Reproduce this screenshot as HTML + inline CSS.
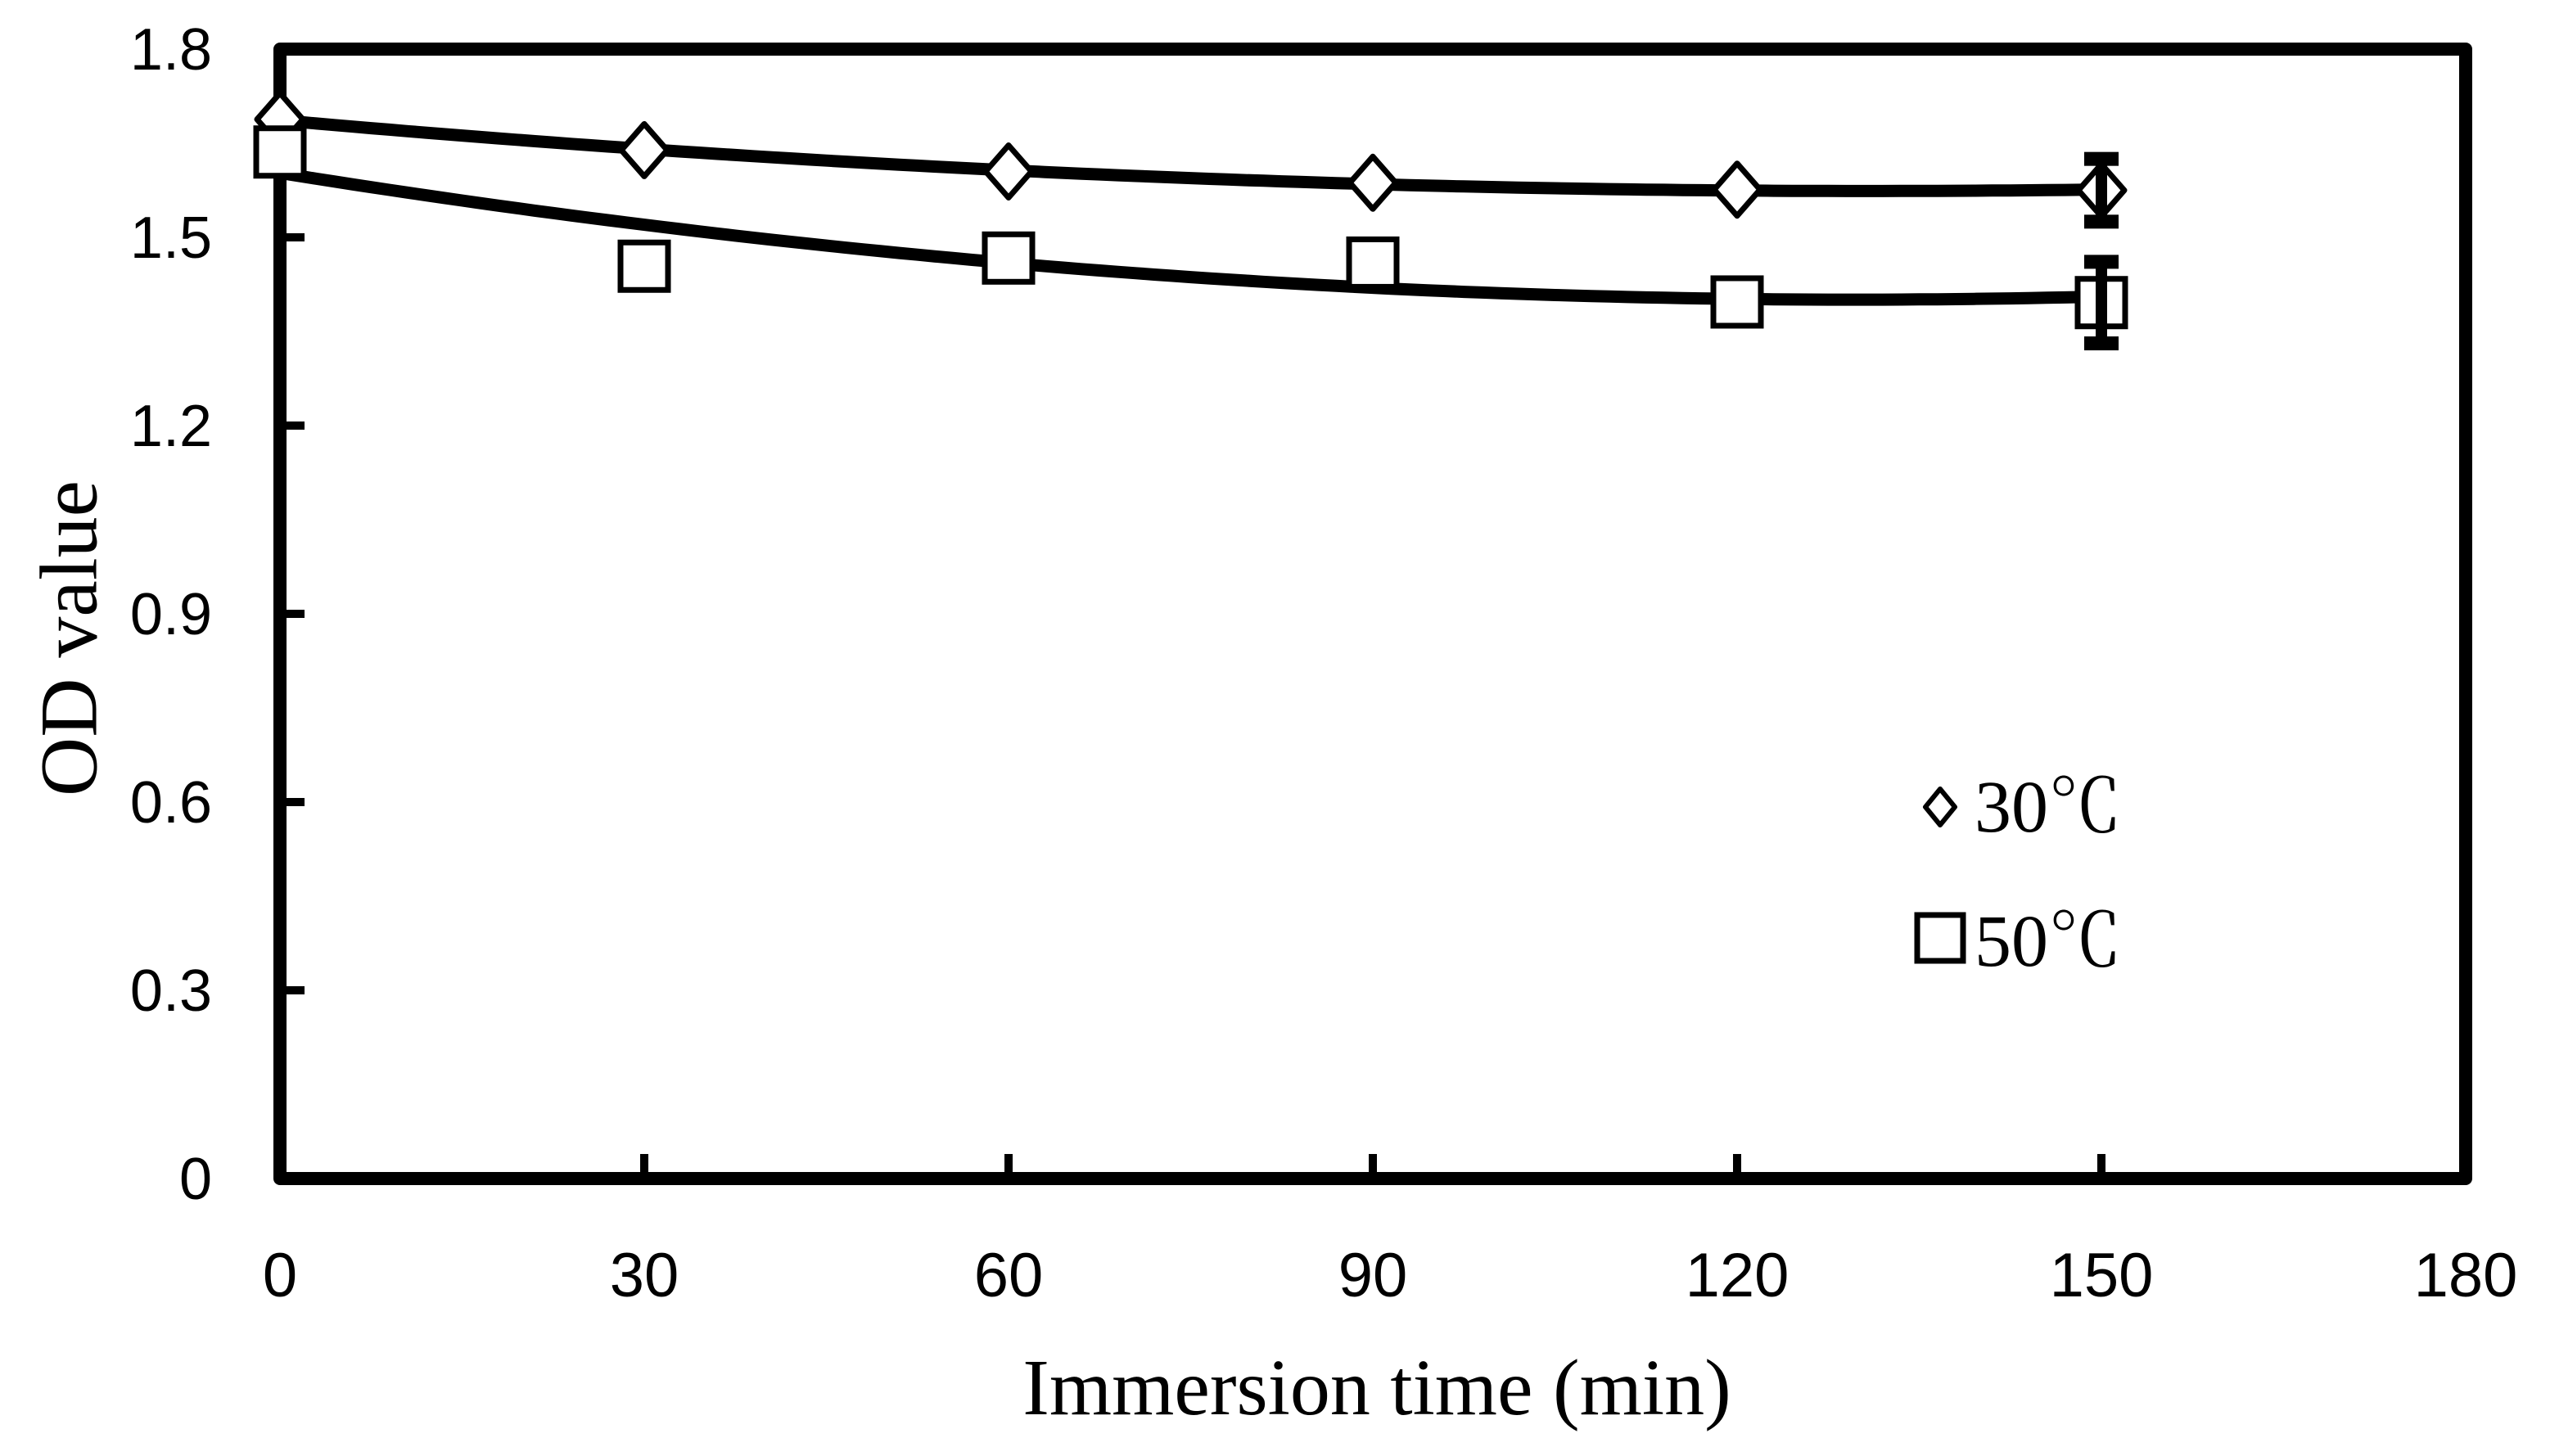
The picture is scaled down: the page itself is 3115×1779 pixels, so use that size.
<!DOCTYPE html>
<html><head><meta charset="utf-8"><style>
html,body{margin:0;padding:0;background:#fff;}
svg{display:block;}
</style></head><body>
<svg id="chart" width="3115" height="1779" viewBox="0 0 3115 1779" xmlns="http://www.w3.org/2000/svg">
<rect x="0" y="0" width="3115" height="1779" fill="#fff"/>
<g id="plot"></g>
<text x="84" y="780" transform="rotate(-90 84 780)" text-anchor="middle" dominant-baseline="central" font-family="Liberation Serif, serif" font-size="100">OD value</text>
<text x="1682" y="1728" text-anchor="middle" font-family="Liberation Serif, serif" font-size="98">Immersion time (min)</text>
<g>
<g>
<path d="M2370 964 L2388 986 L2370 1008 L2352 986 Z" fill="#fff" stroke="#000" stroke-width="6" stroke-linejoin="round"/>
<text x="2412" y="1016" font-family="Liberation Serif, 'Noto Serif CJK SC', serif" font-size="90">30℃</text>
</g>
<g>
<rect x="2342" y="1118" width="56" height="56" fill="#fff" stroke="#000" stroke-width="7"/>
<text x="2412" y="1180" font-family="Liberation Serif, 'Noto Serif CJK SC', serif" font-size="90">50℃</text>
</g>
</g>
</svg>
<script>
const xTicks = [0, 30, 60, 90, 120, 150, 180];
const yTicks = [0, 0.3, 0.6, 0.9, 1.2, 1.5, 1.8];
const yTickLabels = ["0", "0.3", "0.6", "0.9", "1.2", "1.5", "1.8"];
const times = [0, 30, 60, 90, 120, 150];
const od30 = [1.688, 1.639, 1.605, 1.587, 1.576, 1.575];
const od50 = [1.636, 1.454, 1.467, 1.459, 1.397, 1.396];
const err30 = [0, 0, 0, 0, 0, 0.05];
const err50 = [0, 0, 0, 0, 0, 0.065];

const NS = "http://www.w3.org/2000/svg";
const L = 342, R = 3012, T = 60, B = 1440;
const xS = v => L + (v - 0) / 180 * (R - L);
const yS = v => B - v / 1.8 * (B - T);
const g = document.getElementById('plot');
function mk(tag, attrs, parent) {
  const e = document.createElementNS(NS, tag);
  for (const k in attrs) e.setAttribute(k, attrs[k]);
  (parent || g).appendChild(e);
  return e;
}
const frame = mk('rect', {x: L, y: T, width: R - L, height: B - T, fill: 'none', stroke: '#000', 'stroke-width': 16, 'stroke-linejoin': 'round'});


xTicks.forEach((v, i) => {
  const t = mk('line', {x1: xS(v), x2: xS(v), y1: B, y2: B - 30, stroke: '#000', 'stroke-width': 10});
  
  
  const tx = mk('text', {x: xS(v), y: 1584, 'text-anchor': 'middle', 'font-family': 'Liberation Sans, sans-serif', 'font-size': 76});
  tx.textContent = String(v);
  
  
});
yTicks.forEach((v, i) => {
  const t = mk('line', {x1: L, x2: L + 30, y1: yS(v), y2: yS(v), stroke: '#000', 'stroke-width': 10});
  
  
  const tx = mk('text', {x: 259, y: yS(v) + 25, 'text-anchor': 'end', 'font-family': 'Liberation Sans, sans-serif', 'font-size': 72});
  tx.textContent = yTickLabels[i];
  
  
});
function fit2(xs, ys) {
  let S = [0,0,0,0,0], Sy = [0,0,0];
  xs.forEach((x, i) => {
    for (let k = 0; k < 5; k++) S[k] += Math.pow(x, k);
    for (let k = 0; k < 3; k++) Sy[k] += ys[i] * Math.pow(x, k);
  });
  const A = [[S[0],S[1],S[2],Sy[0]],[S[1],S[2],S[3],Sy[1]],[S[2],S[3],S[4],Sy[2]]];
  for (let c = 0; c < 3; c++) {
    for (let r = c + 1; r < 3; r++) {
      const f = A[r][c] / A[c][c];
      for (let k = c; k < 4; k++) A[r][k] -= f * A[c][k];
    }
  }
  const b = [0,0,0];
  for (let r = 2; r >= 0; r--) {
    let s = A[r][3];
    for (let k = r + 1; k < 3; k++) s -= A[r][k] * b[k];
    b[r] = s / A[r][r];
  }
  return x => b[0] + b[1] * x + b[2] * x * x;
}
function trend(xs, ys, name) {
  const f = fit2(xs, ys);
  let d = '';
  const x0 = xs[0], x1 = xs[xs.length - 1];
  for (let i = 0; i <= 100; i++) {
    const x = x0 + (x1 - x0) * i / 100;
    d += (i ? 'L' : 'M') + xS(x).toFixed(1) + ' ' + yS(f(x)).toFixed(1);
  }
  const p = mk('path', {d: d, fill: 'none', stroke: '#000', 'stroke-width': 15, 'stroke-linecap': 'butt'});
  
  
}
trend(times, od30, 'trendline-30c');
trend(times, od50, 'trendline-50c');
function errbar(x, y, e, name) {
  if (!e) return;
  const s = mk('line', {x1: xS(x), x2: xS(x), y1: yS(y + e) - 8, y2: yS(y - e) + 8, stroke: '#000', 'stroke-width': 14});
  
  
  [y + e, y - e].forEach(v => {
    const c = mk('rect', {x: xS(x) - 21, y: yS(v) - 8.5, width: 42, height: 17, fill: '#000'});
    
    
  });
}
times.forEach((t, i) => {
  const cx = xS(t), cy = yS(od30[i]);
  const d = mk('path', {d: `M${cx} ${cy-32} L${cx+28} ${cy} L${cx} ${cy+32} L${cx-28} ${cy} Z`, fill: '#fff', stroke: '#000', 'stroke-width': 7, 'stroke-linejoin': 'round'});
  
  
});
times.forEach((t, i) => {
  const cx = xS(t), cy = yS(od50[i]);
  const s = mk('rect', {x: cx - 29, y: cy - 29, width: 58, height: 58, fill: '#fff', stroke: '#000', 'stroke-width': 7});
  
  
});
times.forEach((t, i) => { errbar(t, od30[i], err30[i], 'error-bar-30c'); errbar(t, od50[i], err50[i], 'error-bar-50c'); });
</script>
</body></html>
